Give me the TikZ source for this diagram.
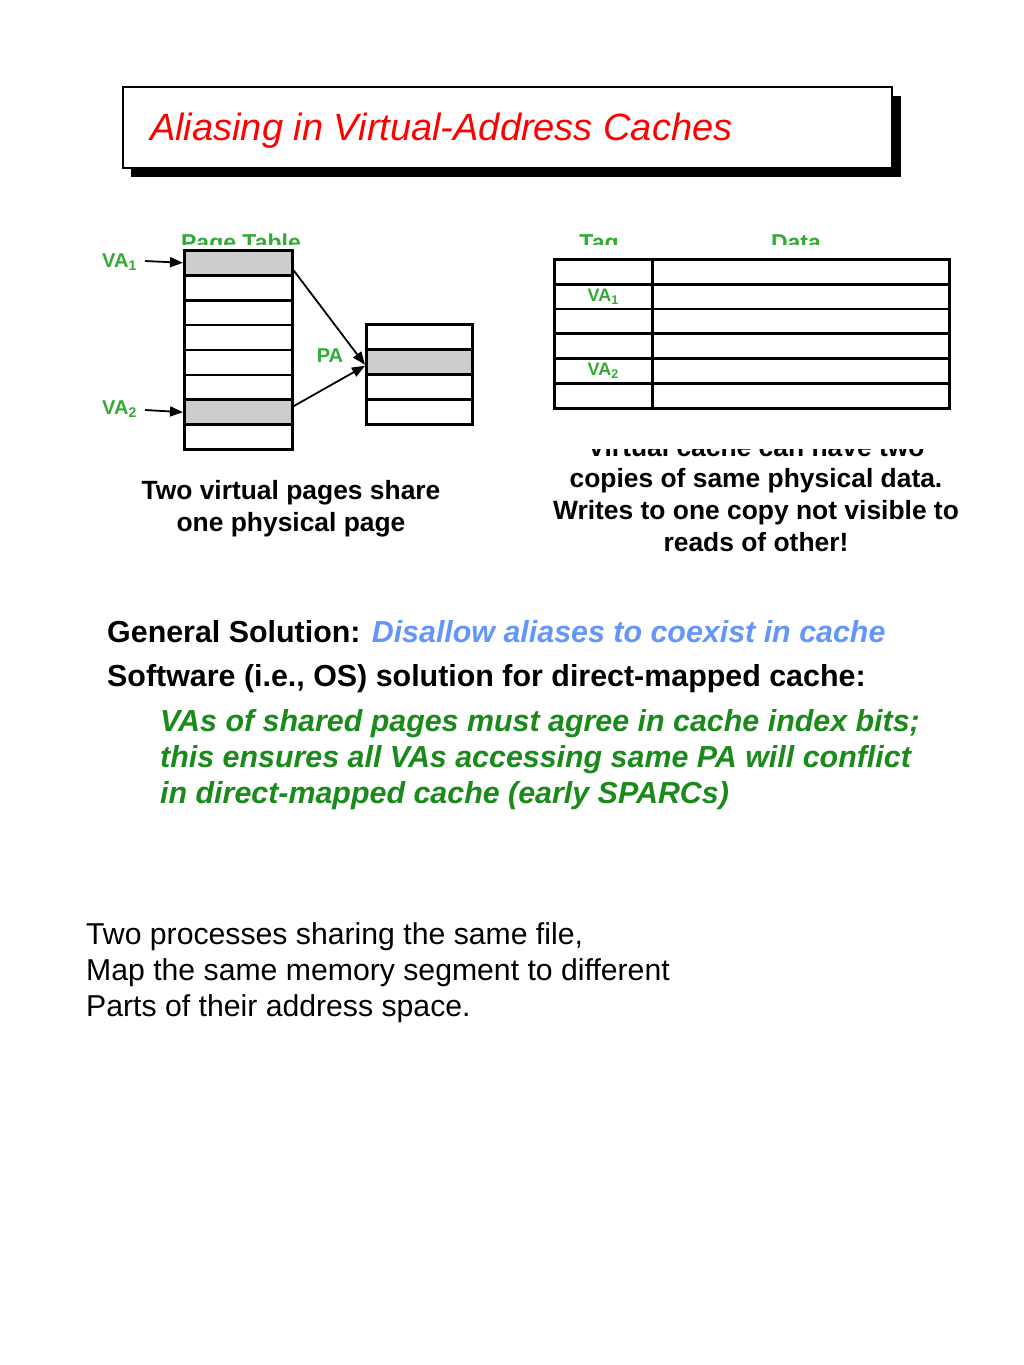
\documentclass[tikz,border=0pt]{standalone}
\usepackage{fontspec}
\setmainfont{Liberation Sans}
\usetikzlibrary{arrows.meta,positioning}

\definecolor{figgreen}{RGB}{51,170,51}
\definecolor{txtgreen}{RGB}{26,138,26}
\definecolor{txtblue}{RGB}{100,150,250}

\begin{document}
\begin{tikzpicture}[x=1pt,y=-1pt,
    row/.style={draw, line width=2.6pt, minimum height=25pt, inner sep=0pt, anchor=north west},
    hit/.style={row, fill=black!20},
    lbl/.style={text=figgreen, font=\bfseries\fontsize{20}{22}\selectfont, inner sep=0pt},
    head/.style={lbl, anchor=base, font=\bfseries\fontsize{23}{24}\selectfont},
    arr/.style={-{Triangle[length=13pt,width=10pt]}, line width=1.8pt},
    say/.style={font=\bfseries\fontsize{26.4}{32}\selectfont, align=center, inner sep=0pt},
    big/.style={font=\bfseries\fontsize{30.4}{36}\selectfont, inner sep=0pt, anchor=base west}
]
\useasboundingbox (0,0) rectangle (1024,1365);

% title box with shadow
\fill (131,96) rectangle (901,177);
\draw[fill=white, line width=1.2pt] (123,87) rectangle (892,168);
\node[anchor=base west, text=red, inner sep=0pt, font=\itshape\fontsize{38}{40}\selectfont] (title) at (150,140)
    {Aliasing in Virtual-Address Caches};

% page table
\begin{scope}
\clip (150,215) rectangle (320,244);
\node[head] (ptname) at (241,250) {Page Table};
\end{scope}
\foreach \i in {1,...,8} {
  \ifnum\i=1 \def\st{hit}\else\ifnum\i=7 \def\st{hit}\else\def\st{row}\fi\fi
  \node[\st, minimum width=108pt] (pt\i) at (183,{249+(\i-1)*24.9}) {};
}
\foreach \i in {1,...,4} {
  \ifnum\i=2 \def\st{hit}\else\def\st{row}\fi
  \node[\st, minimum width=106pt] (pm\i) at (365,{323+(\i-1)*25}) {};
}
\node[lbl, anchor=east] (va1) at (137,262) {VA\textsubscript{1}};
\node[lbl, anchor=east] (va2) at (137,409) {VA\textsubscript{2}};
\node[lbl] (pa) at (330,356) {PA};
\coordinate (va1tip) at (145,261);
\coordinate (va2tip) at (145,410);
\draw[arr] (va1tip) -- (pt1.west);
\draw[arr] (va2tip) -- (pt7.west);
\draw[arr] ([yshift=-7.5pt]pt1.east) -- ([yshift=-3pt]pm2.west);
\draw[arr] ([yshift=6pt]pt7.east) -- ([yshift=-4pt]pm2.west);

% virtual cache
\begin{scope}
\clip (540,215) rectangle (960,244);
\node[head] (tagname) at (599,250) {Tag};
\node[head] (dataname) at (796,250) {Data};
\end{scope}
\foreach \i in {1,...,6} {
  \node[row, minimum width=98pt] (tag\i) at (553,{258+(\i-1)*24.8}) {};
  \node[row, minimum width=297pt] (dat\i) at (651,{258+(\i-1)*24.8}) {};
}
\node[lbl, font=\bfseries\fontsize{18}{20}\selectfont] (cva1) at (tag2.center) {VA\textsubscript{1}};
\node[lbl, font=\bfseries\fontsize{18}{20}\selectfont] (cva2) at (tag5.center) {VA\textsubscript{2}};

% captions
\node[say, anchor=base] (ptcap) at (291,531) {Two virtual pages share\\one physical page};
\begin{scope}
\clip (540,449) rectangle (980,470);
\node[say, anchor=base] (vccap0) at (756,456) {Virtual cache can have two};
\end{scope}
\node[say, anchor=base] (vccap) at (756,551) {copies of same physical data.\\Writes to one copy not visible to\\reads of other!};

% solution text
\node[big] (gen) at (107,642)
    {General Solution: \textcolor{txtblue}{\itshape Disallow aliases to coexist in cache}};
\node[big] (sw) at (107,686) {Software (i.e., OS) solution for direct-mapped cache:};
\node[big, align=left, text=txtgreen, font=\bfseries\itshape\fontsize{30.4}{36}\selectfont] (rule) at (160,803)
    {VAs of shared pages must agree in cache index bits;\\this ensures all VAs accessing same PA will conflict\\in direct-mapped cache (early SPARCs)};

% note
\node[big, align=left, font=\fontsize{30.2}{36}\selectfont] (note) at (86,1016)
    {Two processes sharing the same file,\\Map the same memory segment to different\\Parts of their address space.};
\end{tikzpicture}
\end{document}
